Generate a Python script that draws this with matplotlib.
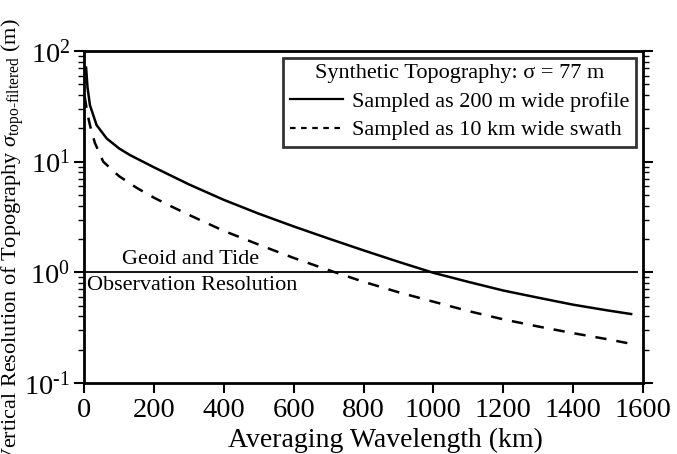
import matplotlib
matplotlib.use("Agg")
import matplotlib.pyplot as plt
from matplotlib.lines import Line2D
from matplotlib.ticker import LogLocator, NullFormatter, FixedFormatter, FixedLocator

plt.rcParams['font.family'] = ['Liberation Serif', 'DejaVu Serif']
plt.rcParams['mathtext.fontset'] = 'custom'
plt.rcParams['mathtext.rm'] = 'Liberation Serif'
plt.rcParams['mathtext.it'] = 'Liberation Serif:italic'
plt.rcParams['mathtext.bf'] = 'Liberation Serif:bold'

# ---- data ----
profile_x = [6, 10, 17, 36, 65, 100, 131, 200, 300, 400, 500, 600, 700,
             800, 900, 1000, 1100, 1200, 1300, 1400, 1500, 1566]
profile_y = [70.6, 47, 32.4, 21.4, 16.2, 13.2, 11.5, 8.9, 6.24, 4.52, 3.39,
             2.60, 2.02, 1.58, 1.245, 0.99, 0.82, 0.685, 0.59, 0.51, 0.452, 0.42]

swath_x = [2, 10, 17, 31, 55, 100, 150, 200, 250, 300, 400, 500, 600, 700,
           800, 900, 1000, 1100, 1200, 1300, 1400, 1500, 1566]
swath_y = [38.6, 27, 21.4, 14.8, 10.0, 7.41, 5.82, 4.73, 3.94, 3.31, 2.37,
           1.78, 1.35, 1.047, 0.822, 0.661, 0.543, 0.447, 0.376, 0.324, 0.282,
           0.248, 0.226]

ref_x = [0, 1583]
ref_y = [1.0, 1.0]

xticks = [0, 200, 400, 600, 800, 1000, 1200, 1400, 1600]
yticks = [0.1, 1, 10, 100]
ytick_labels = [r"$10^{\text{-}1}$", r"$10^{0}$", r"$10^{1}$", r"$10^{2}$"]

legend_title = "Synthetic Topography: σ = 77 m"
label_profile = "Sampled as 200 m wide profile"
label_swath = "Sampled as 10 km wide swath"

fig = plt.figure(figsize=(6.77, 4.54), dpi=100)
ax = fig.add_axes([84/677, 1-383/454, (643-84)/677, (383-51)/454])

ax.plot(profile_x, profile_y, color='black', lw=1.8)
ax.plot(swath_x, swath_y, color='black', lw=1.8, ls=(0, (4.5, 4)))
ax.plot(ref_x, ref_y, color='black', lw=1.3)

ax.set_yscale('log')
ax.set_xlim(0, 1600)
ax.set_ylim(0.1, 100)
ax.set_xticks(xticks)
ax.yaxis.set_major_locator(FixedLocator(yticks))
ax.yaxis.set_major_formatter(FixedFormatter(ytick_labels))
ax.yaxis.set_minor_locator(LogLocator(base=10, subs=range(2, 10), numticks=20))
ax.yaxis.set_minor_formatter(NullFormatter())

for s in ax.spines.values():
    s.set_linewidth(2.0)

ax.tick_params(axis='x', which='major', direction='out', length=7, width=1.5,
               labelsize=20.5, pad=4, top=False)
ax.tick_params(axis='y', which='major', direction='out', length=7, width=1.5,
               labelsize=20.5, pad=3, right=True)
ax.tick_params(axis='y', which='minor', direction='out', length=4, width=1.0,
               right=True)

ax.text(306, 1.07, "Geoid and Tide", ha='center', va='bottom', fontsize=16)
ax.text(8, 0.93, "Observation Resolution", ha='left', va='top', fontsize=16)

handles = [Line2D([], [], color='black', lw=1.6),
           Line2D([], [], color='black', lw=1.6, ls=(0, (2.5, 2.5)))]
leg = ax.legend(handles, [label_profile, label_swath], loc='upper right',
                title=legend_title, fontsize=16, title_fontsize=16,
                frameon=True, fancybox=False, edgecolor='black',
                borderaxespad=0.3, handlelength=2.4, handletextpad=0.4,
                borderpad=0.3, labelspacing=0.36)
leg.get_frame().set_linewidth(2.0)

fig.text(385/677, 1-447/454, "Averaging Wavelength (km)", ha='center',
         va='baseline', fontsize=20)
fig.text(13/677, 1-18/454,
         r"Vertical Resolution of Topography $\sigma_{\mathrm{topo}\text{-}\mathrm{filtered}}$ (m)",
         rotation=90, ha='center', va='top', fontsize=16)

fig.savefig("out.png", dpi=100)
